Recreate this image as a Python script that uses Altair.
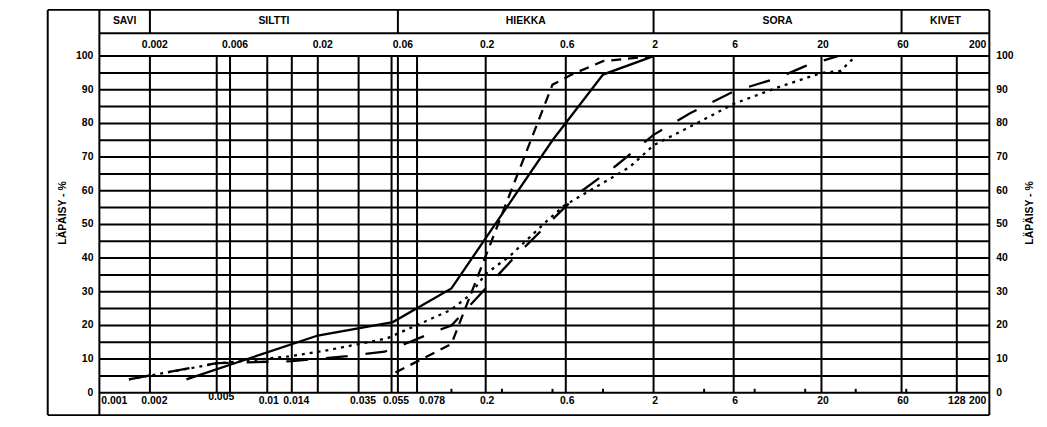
import altair as alt
import pandas as pd

# ---------------- data (grain size in mm, percent passing) ----------------
solid_d = [0.0033, 0.02, 0.056, 0.125, 0.5, 1.0, 2.0]
solid_p = [4.0, 17.0, 21.0, 31.0, 75.0, 94.5, 100.0]

shortdash_d = [0.058, 0.125, 0.5, 0.65, 1.0, 2.0]
shortdash_p = [6.0, 14.5, 91.5, 94.5, 98.5, 100.0]

longdash_d = [0.0015, 0.005, 0.014, 0.03, 0.05, 0.07, 0.1, 0.125, 0.2, 0.3, 0.55,
              0.75, 1.2, 2.0, 3.3, 6.0, 11.0, 16.0, 25.0]
longdash_p = [4.0, 8.8, 9.4, 10.9, 12.2, 15.0, 18.2, 20.0, 31.0, 40.5, 53.5,
              60.0, 67.5, 76.6, 83.0, 89.5, 93.5, 97.0, 100.0]

dotted_d = [0.0015, 0.005, 0.0085, 0.0134, 0.021, 0.033, 0.052, 0.06, 0.123, 0.16,
            0.2, 0.28, 0.44, 0.58, 0.92, 1.44, 2.0, 3.6, 6.0, 11.0, 20.0, 26.0, 32.0]
dotted_p = [4.0, 8.7, 9.8, 10.8, 12.3, 14.2, 16.2, 17.6, 24.5, 28.9,
            35.3, 40.7, 50.0, 55.4, 61.3, 67.0, 73.5, 80.0, 85.8, 90.7, 95.0, 95.6, 100.0]

soil_classes = ["SAVI", "SILTTI", "HIEKKA", "SORA", "KIVET"]
class_bounds = [0.001, 0.002, 0.06, 2, 60, 200]

grid_sizes = [0.002, 0.005, 0.006, 0.01, 0.014, 0.02, 0.035, 0.055, 0.06, 0.078,
              0.2, 0.6, 2, 6, 20, 60, 128]
minor_ticks = [0.125, 0.25, 0.5, 1, 4, 8, 16, 32, 64]
top_labels = [0.002, 0.006, 0.02, 0.06, 0.2, 0.6, 2, 6, 20, 60, 200]
bottom_labels = [0.001, 0.002, 0.005, 0.01, 0.014, 0.035, 0.055, 0.078, 0.2, 0.6,
                 2, 6, 20, 60, 128, 200]
pct_labels = list(range(0, 101, 10))
pct_grid = list(range(0, 101, 5))
y_title = "LÄPÄISY - %"

# ---------------- layout / style ----------------
W, H = 896, 339
TOP, MID, BOT, LEFT = -46.5, -23, 361.5, -52
FONT = "Liberation Sans"
LW = 2

xscale = alt.Scale(type="log", domain=[0.001, 200], nice=False)
yscale = alt.Scale(domain=[0, 100], nice=False, zero=True)
one = pd.DataFrame({"k": [0]})


def X(field="d"):
    return alt.X(f"{field}:Q", scale=xscale, axis=None)


def Y(field="p"):
    return alt.Y(f"{field}:Q", scale=yscale, axis=None)


def fmt(v):
    return f"{v:g}"


def frame_h(y, x0, x1):
    return alt.Chart(one).mark_rule(color="black", strokeWidth=LW).encode(
        x=alt.value(x0), x2=alt.value(x1), y=alt.value(y))


def frame_v(x, y0, y1):
    return alt.Chart(one).mark_rule(color="black", strokeWidth=LW).encode(
        x=alt.value(x), y=alt.value(y0), y2=alt.value(y1))


layers = []

# horizontal grid every 5 %
layers.append(alt.Chart(pd.DataFrame({"p": pct_grid})).mark_rule(
    color="black", strokeWidth=LW).encode(y=Y()))
# vertical grid lines
layers.append(alt.Chart(pd.DataFrame({"d": grid_sizes})).mark_rule(
    color="black", strokeWidth=LW).encode(x=X()))
# small sieve ticks at the bottom
layers.append(alt.Chart(pd.DataFrame({"d": minor_ticks})).mark_rule(
    color="black", strokeWidth=LW).encode(x=X(), y=alt.value(H - 4), y2=alt.value(H)))
# left/right borders (0.001 and 200) spanning whole height
layers.append(alt.Chart(pd.DataFrame({"d": [class_bounds[0], class_bounds[-1]]})).mark_rule(
    color="black", strokeWidth=LW).encode(x=X(), y=alt.value(TOP), y2=alt.value(BOT)))
# class separators in header
layers.append(alt.Chart(pd.DataFrame({"d": class_bounds[1:-1]})).mark_rule(
    color="black", strokeWidth=LW).encode(x=X(), y=alt.value(TOP), y2=alt.value(MID)))
# outer frame lines
layers.append(frame_h(TOP, LEFT, W))
layers.append(frame_h(MID, 0, W))
layers.append(frame_h(BOT, LEFT, W))
layers.append(frame_v(LEFT, TOP, BOT))

txt = dict(font=FONT, fontSize=10.5, fontWeight="bold", color="black", baseline="middle")

# soil class names
cls_df = pd.DataFrame({
    "d": [(class_bounds[i] * class_bounds[i + 1]) ** 0.5 for i in range(len(soil_classes))],
    "label": soil_classes})
layers.append(alt.Chart(cls_df).mark_text(align="center", **txt).encode(
    x=X(), y=alt.value(-35), text="label:N"))


def label_layer(df, y, align="center", dx=0):
    return alt.Chart(df).mark_text(align=align, dx=dx, **txt).encode(
        x=X(), y=alt.value(y), text="label:N")


# top size labels
top_df = pd.DataFrame({"d": top_labels, "label": [fmt(v) for v in top_labels]})
top_small = top_df.d < 0.1
top_right = top_df.d >= 200
layers.append(label_layer(top_df[top_small], -11.5, dx=5))
layers.append(label_layer(top_df[~top_small & ~top_right], -11.5, dx=1.5))
layers.append(label_layer(top_df[top_right], -11.5, align="right", dx=-3))

# bottom size labels
bot_df = pd.DataFrame({"d": bottom_labels, "label": [fmt(v) for v in bottom_labels]})
left_al = bot_df.d.isin([0.001, 0.078])
right_al = bot_df.d.isin([200])
raised = bot_df.d.isin([0.005])
small = bot_df.d.isin([0.002, 0.014, 0.035, 0.055])
near_right = bot_df.d.isin([128])
rest = ~(left_al | right_al | raised | small | near_right)
layers.append(label_layer(bot_df[rest], H + 8, dx=1.5))
layers.append(label_layer(bot_df[small], H + 8, dx=4.5))
layers.append(label_layer(bot_df[raised], H + 4, dx=4.5))
layers.append(label_layer(bot_df[near_right], H + 8, dx=0))
layers.append(label_layer(bot_df[left_al], H + 8, align="left", dx=2))
layers.append(label_layer(bot_df[right_al], H + 8, align="right", dx=-3))

# percent labels, both sides
pct_df = pd.DataFrame({"p": pct_labels, "label": [str(v) for v in pct_labels]})
layers.append(alt.Chart(pct_df).mark_text(align="right", **txt).encode(
    y=Y(), x=alt.value(-6), text="label:N"))
layers.append(alt.Chart(pct_df).mark_text(align="left", **txt).encode(
    y=Y(), x=alt.value(W + 7), text="label:N"))

# axis titles
ttl_df = pd.DataFrame({"label": [y_title]})
layers.append(alt.Chart(ttl_df).mark_text(align="center", angle=270, **txt).encode(
    x=alt.value(-37), y=alt.value(158), text="label:N"))
layers.append(alt.Chart(ttl_df).mark_text(align="center", angle=270, **txt).encode(
    x=alt.value(W + 41), y=alt.value(158), text="label:N"))


# grading curves
def curve(d, p, dash=None):
    df = pd.DataFrame({"d": d, "p": p})
    kw = dict(color="black", strokeWidth=2.3)
    if dash:
        kw["strokeDash"] = dash
    return alt.Chart(df).mark_line(**kw).encode(x=X(), y=Y())


layers.append(curve(dotted_d, dotted_p, [3, 5]))
layers.append(curve(longdash_d, longdash_p, [22, 18]))
layers.append(curve(shortdash_d, shortdash_p, [10, 7]))
layers.append(curve(solid_d, solid_p))

chart = alt.layer(*layers).properties(
    width=W, height=H,
    padding={"left": 92, "top": 47, "right": 50, "bottom": 23},
    autosize=alt.AutoSizeParams(type="none"),
    background="white",
).configure_view(stroke=None)

chart.save("out.html", embed_options={"renderer": "svg", "actions": False})
